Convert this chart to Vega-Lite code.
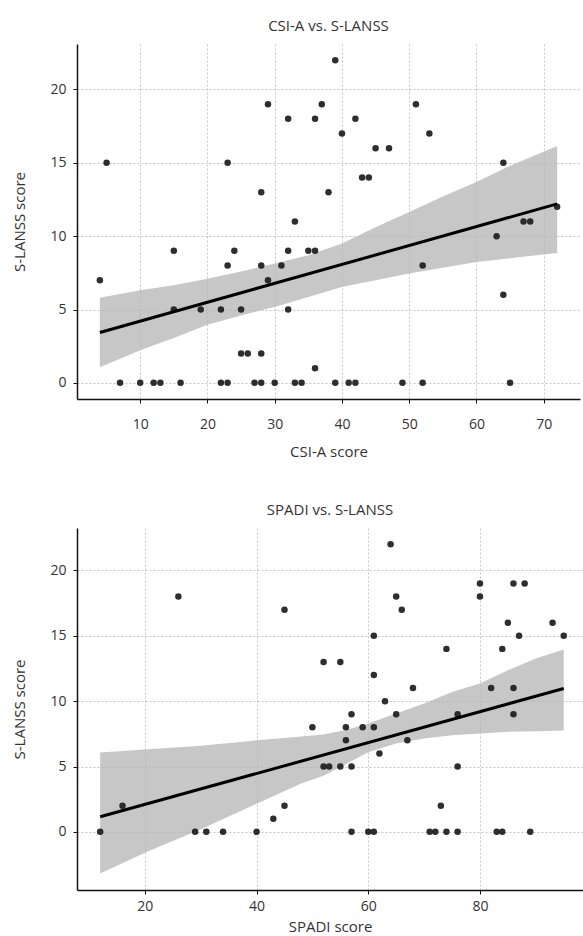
{
  "$schema": "https://vega.github.io/schema/vega-lite/v6.json",
  "padding": {"top": 19, "left": 12, "right": 0, "bottom": 4},
  "background": "white",
  "spacing": 44,
  "config": {
    "view": {"stroke": null},
    "font": "Open Sans",
    "title": {"font": "Open Sans", "fontSize": 15, "fontWeight": "normal", "color": "#333", "offset": 10},
    "axis": {
      "domainColor": "#111", "domainWidth": 1.5, "tickColor": "#111", "tickSize": 4, "tickWidth": 1,
      "labelFont": "Open Sans", "labelFontSize": 14, "labelColor": "#333", "labelPadding": 7,
      "titleFont": "Open Sans", "titleFontSize": 15, "titleFontWeight": "normal", "titleColor": "#333",
      "gridColor": "#b8b8b8", "gridDash": [2, 2], "gridWidth": 0.8
    }
  },
  "datasets": {
    "csi": [
      {"csi": 4, "slanss": 7}, {"csi": 5, "slanss": 15}, {"csi": 7, "slanss": 0}, {"csi": 10, "slanss": 0},
      {"csi": 12, "slanss": 0}, {"csi": 13, "slanss": 0}, {"csi": 15, "slanss": 9}, {"csi": 15, "slanss": 5},
      {"csi": 16, "slanss": 0}, {"csi": 19, "slanss": 5}, {"csi": 22, "slanss": 5}, {"csi": 22, "slanss": 0},
      {"csi": 23, "slanss": 0}, {"csi": 23, "slanss": 15}, {"csi": 23, "slanss": 8}, {"csi": 24, "slanss": 9},
      {"csi": 25, "slanss": 5}, {"csi": 25, "slanss": 2}, {"csi": 26, "slanss": 2}, {"csi": 27, "slanss": 0},
      {"csi": 28, "slanss": 0}, {"csi": 28, "slanss": 2}, {"csi": 28, "slanss": 8}, {"csi": 28, "slanss": 13},
      {"csi": 29, "slanss": 7}, {"csi": 29, "slanss": 19}, {"csi": 30, "slanss": 0}, {"csi": 31, "slanss": 8},
      {"csi": 32, "slanss": 9}, {"csi": 32, "slanss": 5}, {"csi": 32, "slanss": 18}, {"csi": 33, "slanss": 11},
      {"csi": 33, "slanss": 0}, {"csi": 34, "slanss": 0}, {"csi": 35, "slanss": 9}, {"csi": 36, "slanss": 9},
      {"csi": 36, "slanss": 1}, {"csi": 36, "slanss": 18}, {"csi": 37, "slanss": 19}, {"csi": 38, "slanss": 13},
      {"csi": 39, "slanss": 22}, {"csi": 39, "slanss": 0}, {"csi": 40, "slanss": 17}, {"csi": 41, "slanss": 0},
      {"csi": 42, "slanss": 0}, {"csi": 42, "slanss": 18}, {"csi": 43, "slanss": 14}, {"csi": 44, "slanss": 14},
      {"csi": 45, "slanss": 16}, {"csi": 47, "slanss": 16}, {"csi": 49, "slanss": 0}, {"csi": 51, "slanss": 19},
      {"csi": 52, "slanss": 8}, {"csi": 52, "slanss": 0}, {"csi": 53, "slanss": 17}, {"csi": 63, "slanss": 10},
      {"csi": 64, "slanss": 15}, {"csi": 64, "slanss": 6}, {"csi": 65, "slanss": 0}, {"csi": 67, "slanss": 11},
      {"csi": 68, "slanss": 11}, {"csi": 72, "slanss": 12}
    ],
    "csiband": [
      {"csi": 4, "lo": 1.06, "hi": 5.81}, {"csi": 10, "lo": 2.22, "hi": 6.31}, {"csi": 15, "lo": 3.06, "hi": 6.65},
      {"csi": 20, "lo": 3.97, "hi": 7.1}, {"csi": 25, "lo": 4.6, "hi": 7.6}, {"csi": 30, "lo": 5.18, "hi": 8.13},
      {"csi": 35, "lo": 5.86, "hi": 8.7}, {"csi": 40, "lo": 6.54, "hi": 9.5}, {"csi": 45, "lo": 7.0, "hi": 10.6},
      {"csi": 50, "lo": 7.45, "hi": 11.65}, {"csi": 55, "lo": 7.85, "hi": 12.7}, {"csi": 60, "lo": 8.24, "hi": 13.7},
      {"csi": 65, "lo": 8.5, "hi": 14.8}, {"csi": 72, "lo": 8.86, "hi": 16.14}
    ],
    "csifit": [
      {"csi": 4, "fit": 3.43}, {"csi": 72, "fit": 12.2}
    ],
    "spadi": [
      {"spadi": 12, "slanss": 0}, {"spadi": 16, "slanss": 2}, {"spadi": 26, "slanss": 18}, {"spadi": 29, "slanss": 0},
      {"spadi": 31, "slanss": 0}, {"spadi": 34, "slanss": 0}, {"spadi": 40, "slanss": 0}, {"spadi": 43, "slanss": 1},
      {"spadi": 45, "slanss": 2}, {"spadi": 45, "slanss": 17}, {"spadi": 50, "slanss": 8}, {"spadi": 52, "slanss": 13},
      {"spadi": 52, "slanss": 5}, {"spadi": 53, "slanss": 5}, {"spadi": 55, "slanss": 13}, {"spadi": 55, "slanss": 5},
      {"spadi": 56, "slanss": 8}, {"spadi": 56, "slanss": 7}, {"spadi": 57, "slanss": 9}, {"spadi": 57, "slanss": 5},
      {"spadi": 57, "slanss": 0}, {"spadi": 59, "slanss": 8}, {"spadi": 60, "slanss": 0}, {"spadi": 61, "slanss": 0},
      {"spadi": 61, "slanss": 8}, {"spadi": 61, "slanss": 12}, {"spadi": 61, "slanss": 15}, {"spadi": 62, "slanss": 6},
      {"spadi": 63, "slanss": 10}, {"spadi": 64, "slanss": 22}, {"spadi": 65, "slanss": 18}, {"spadi": 65, "slanss": 9},
      {"spadi": 66, "slanss": 17}, {"spadi": 67, "slanss": 7}, {"spadi": 68, "slanss": 11}, {"spadi": 71, "slanss": 0},
      {"spadi": 72, "slanss": 0}, {"spadi": 73, "slanss": 2}, {"spadi": 74, "slanss": 14}, {"spadi": 74, "slanss": 0},
      {"spadi": 76, "slanss": 9}, {"spadi": 76, "slanss": 5}, {"spadi": 76, "slanss": 0}, {"spadi": 80, "slanss": 19},
      {"spadi": 80, "slanss": 18}, {"spadi": 82, "slanss": 11}, {"spadi": 83, "slanss": 0}, {"spadi": 84, "slanss": 14},
      {"spadi": 84, "slanss": 0}, {"spadi": 85, "slanss": 16}, {"spadi": 86, "slanss": 19}, {"spadi": 86, "slanss": 11},
      {"spadi": 86, "slanss": 9}, {"spadi": 87, "slanss": 15}, {"spadi": 88, "slanss": 19}, {"spadi": 89, "slanss": 0},
      {"spadi": 93, "slanss": 16}, {"spadi": 95, "slanss": 15}
    ],
    "spadiband": [
      {"spadi": 12, "lo": -3.19, "hi": 6.07}, {"spadi": 20, "lo": -1.6, "hi": 6.3}, {"spadi": 30, "lo": 0.2, "hi": 6.58},
      {"spadi": 40, "lo": 2.15, "hi": 7.0}, {"spadi": 48, "lo": 3.7, "hi": 7.3}, {"spadi": 52, "lo": 4.3, "hi": 7.45},
      {"spadi": 56, "lo": 5.2, "hi": 7.8}, {"spadi": 60, "lo": 6.1, "hi": 8.3}, {"spadi": 65, "lo": 6.76, "hi": 9.06},
      {"spadi": 70, "lo": 7.14, "hi": 9.82}, {"spadi": 75, "lo": 7.4, "hi": 10.7}, {"spadi": 80, "lo": 7.53, "hi": 11.35},
      {"spadi": 85, "lo": 7.65, "hi": 12.37}, {"spadi": 90, "lo": 7.7, "hi": 13.27}, {"spadi": 95, "lo": 7.75, "hi": 13.96}
    ],
    "spadifit": [
      {"spadi": 12, "fit": 1.15}, {"spadi": 95, "fit": 10.97}
    ]
  },
  "vconcat": [
    {
      "title": "CSI-A vs. S-LANSS",
      "width": 503,
      "height": 355,
      "layer": [
        {
          "data": {"name": "csiband"},
          "mark": {"type": "area", "color": "#b4b4b4", "opacity": 0.75},
          "encoding": {
            "x": {"field": "csi", "type": "quantitative", "scale": {"domain": [0.6, 75.4], "nice": false, "zero": false},
                  "axis": {"values": [10, 20, 30, 40, 50, 60, 70], "title": "CSI-A score", "labelPadding": 14, "titlePadding": 13}},
            "y": {"field": "lo", "type": "quantitative", "scale": {"domain": [-1.1, 23.1], "nice": false, "zero": false},
                  "axis": {"values": [0, 5, 10, 15, 20], "title": "S-LANSS score", "titlePadding": 22}},
            "y2": {"field": "hi"}
          }
        },
        {
          "data": {"name": "csi"},
          "mark": {"type": "circle", "size": 42, "color": "#1c1c1c", "opacity": 0.92},
          "encoding": {
            "x": {"field": "csi", "type": "quantitative"},
            "y": {"field": "slanss", "type": "quantitative"}
          }
        },
        {
          "data": {"name": "csifit"},
          "mark": {"type": "line", "color": "#000", "strokeWidth": 3},
          "encoding": {
            "x": {"field": "csi", "type": "quantitative"},
            "y": {"field": "fit", "type": "quantitative"}
          }
        }
      ]
    },
    {
      "title": "SPADI vs. S-LANSS",
      "width": 506,
      "height": 362,
      "layer": [
        {
          "data": {"name": "spadiband"},
          "mark": {"type": "area", "color": "#b4b4b4", "opacity": 0.75},
          "encoding": {
            "x": {"field": "spadi", "type": "quantitative", "scale": {"domain": [7.85, 98.45], "nice": false, "zero": false},
                  "axis": {"values": [20, 40, 60, 80], "title": "SPADI score", "labelPadding": 5, "titlePadding": 6}},
            "y": {"field": "lo", "type": "quantitative", "scale": {"domain": [-4.45, 23.25], "nice": false, "zero": false},
                  "axis": {"values": [0, 5, 10, 15, 20], "title": "S-LANSS score", "titlePadding": 22}},
            "y2": {"field": "hi"}
          }
        },
        {
          "data": {"name": "spadi"},
          "mark": {"type": "circle", "size": 42, "color": "#1c1c1c", "opacity": 0.92},
          "encoding": {
            "x": {"field": "spadi", "type": "quantitative"},
            "y": {"field": "slanss", "type": "quantitative"}
          }
        },
        {
          "data": {"name": "spadifit"},
          "mark": {"type": "line", "color": "#000", "strokeWidth": 3},
          "encoding": {
            "x": {"field": "spadi", "type": "quantitative"},
            "y": {"field": "fit", "type": "quantitative"}
          }
        }
      ]
    }
  ]
}
